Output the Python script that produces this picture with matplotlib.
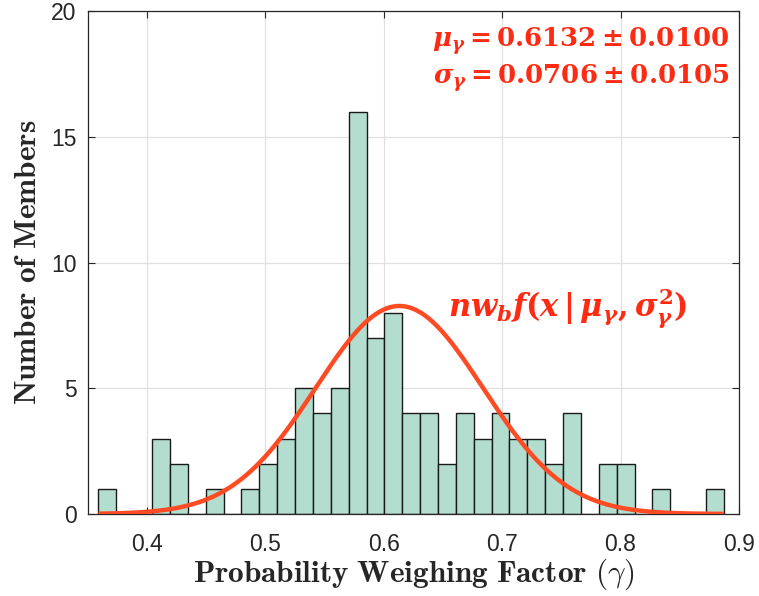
import numpy as np
import matplotlib
matplotlib.use('Agg')
import matplotlib.pyplot as plt

# histogram counts (35 equal bins)
counts = [1, 0, 0, 3, 2, 0, 1, 0, 1, 2, 3, 5, 4, 5, 16, 7, 8, 4,
          4, 2, 4, 3, 4, 3, 3, 2, 4, 0, 2, 2, 0, 1, 0, 0, 1]
bin_lo = 0.3591
bin_hi = 0.8873
mu = 0.6132
mu_err = 0.0100
sigma = 0.0706
sigma_err = 0.0105

xticks = [0.4, 0.5, 0.6, 0.7, 0.8, 0.9]
yticks = [0, 5, 10, 15, 20]

plt.rcParams['font.family'] = ['Liberation Sans', 'DejaVu Sans']
plt.rcParams['mathtext.fontset'] = 'cm'
# bold serif math for the red annotations (used via math_fontfamily='custom')
plt.rcParams['mathtext.rm'] = 'DejaVu Serif:bold'
plt.rcParams['mathtext.bf'] = 'DejaVu Serif:bold'
plt.rcParams['mathtext.it'] = 'DejaVu Serif:italic:bold'

edges = np.linspace(bin_lo, bin_hi, len(counts) + 1)
wb = edges[1] - edges[0]
n = sum(counts)

fig = plt.figure(figsize=(7.59, 5.96), dpi=100)
ax = fig.add_axes([0.1155, 0.1376, 0.8581, 0.8439])

ax.bar(edges[:-1], counts, width=wb, align='edge', color='#b3ddcf',
       edgecolor='#1a1a1a', linewidth=1.0, zorder=2)

xs = np.linspace(bin_lo, bin_hi, 400)
pdf = np.exp(-0.5 * ((xs - mu) / sigma) ** 2) / (np.sqrt(2 * np.pi) * sigma)
ax.plot(xs, n * wb * pdf, color='#ff4b23', lw=3.2, zorder=3, solid_capstyle='butt')

ax.set_xlim(0.35, 0.9)
ax.set_ylim(0, 20)
ax.set_xticks(xticks)
ax.set_yticks(yticks)
ax.set_xticklabels(['%g' % t for t in xticks])
ax.grid(True, color='#e0e0e0', lw=0.9, zorder=0)
ax.set_axisbelow(True)
ax.tick_params(direction='in', length=5, width=0.8, colors='#262626',
               labelsize=16.5, top=True, right=True)
ax.tick_params(axis='x', pad=14)
ax.tick_params(axis='y', pad=8)
for s in ax.spines.values():
    s.set_color('#262626')
    s.set_linewidth(0.9)

ax.set_xlabel(r'$\mathbf{Probability\ Weighing\ Factor\ (}\gamma\mathbf{)}$',
              fontsize=22.5, color='#262626', labelpad=0)
ax.set_ylabel(r'$\mathbf{Number\ of\ Members}$', fontsize=22.5,
              color='#262626', labelpad=6)

red = '#ff2a12'
ax.text(0.985, 0.972,
        r'$\mu_\gamma = 0.6132 \pm %.4f$' % mu_err,
        transform=ax.transAxes, ha='right', va='top', fontsize=18.7, color=red,
        math_fontfamily='custom')
ax.text(0.985, 0.899,
        r'$\sigma_\gamma = 0.0706 \pm %.4f$' % sigma_err,
        transform=ax.transAxes, ha='right', va='top', fontsize=18.7, color=red,
        math_fontfamily='custom')
ax.text(0.755, 7.9, r'$n w_b f(x\,|\,\mu_\gamma, \sigma^2_\gamma)$',
        ha='center', va='baseline', fontsize=22, color=red,
        math_fontfamily='custom')

fig.savefig('out.png', dpi=100)
